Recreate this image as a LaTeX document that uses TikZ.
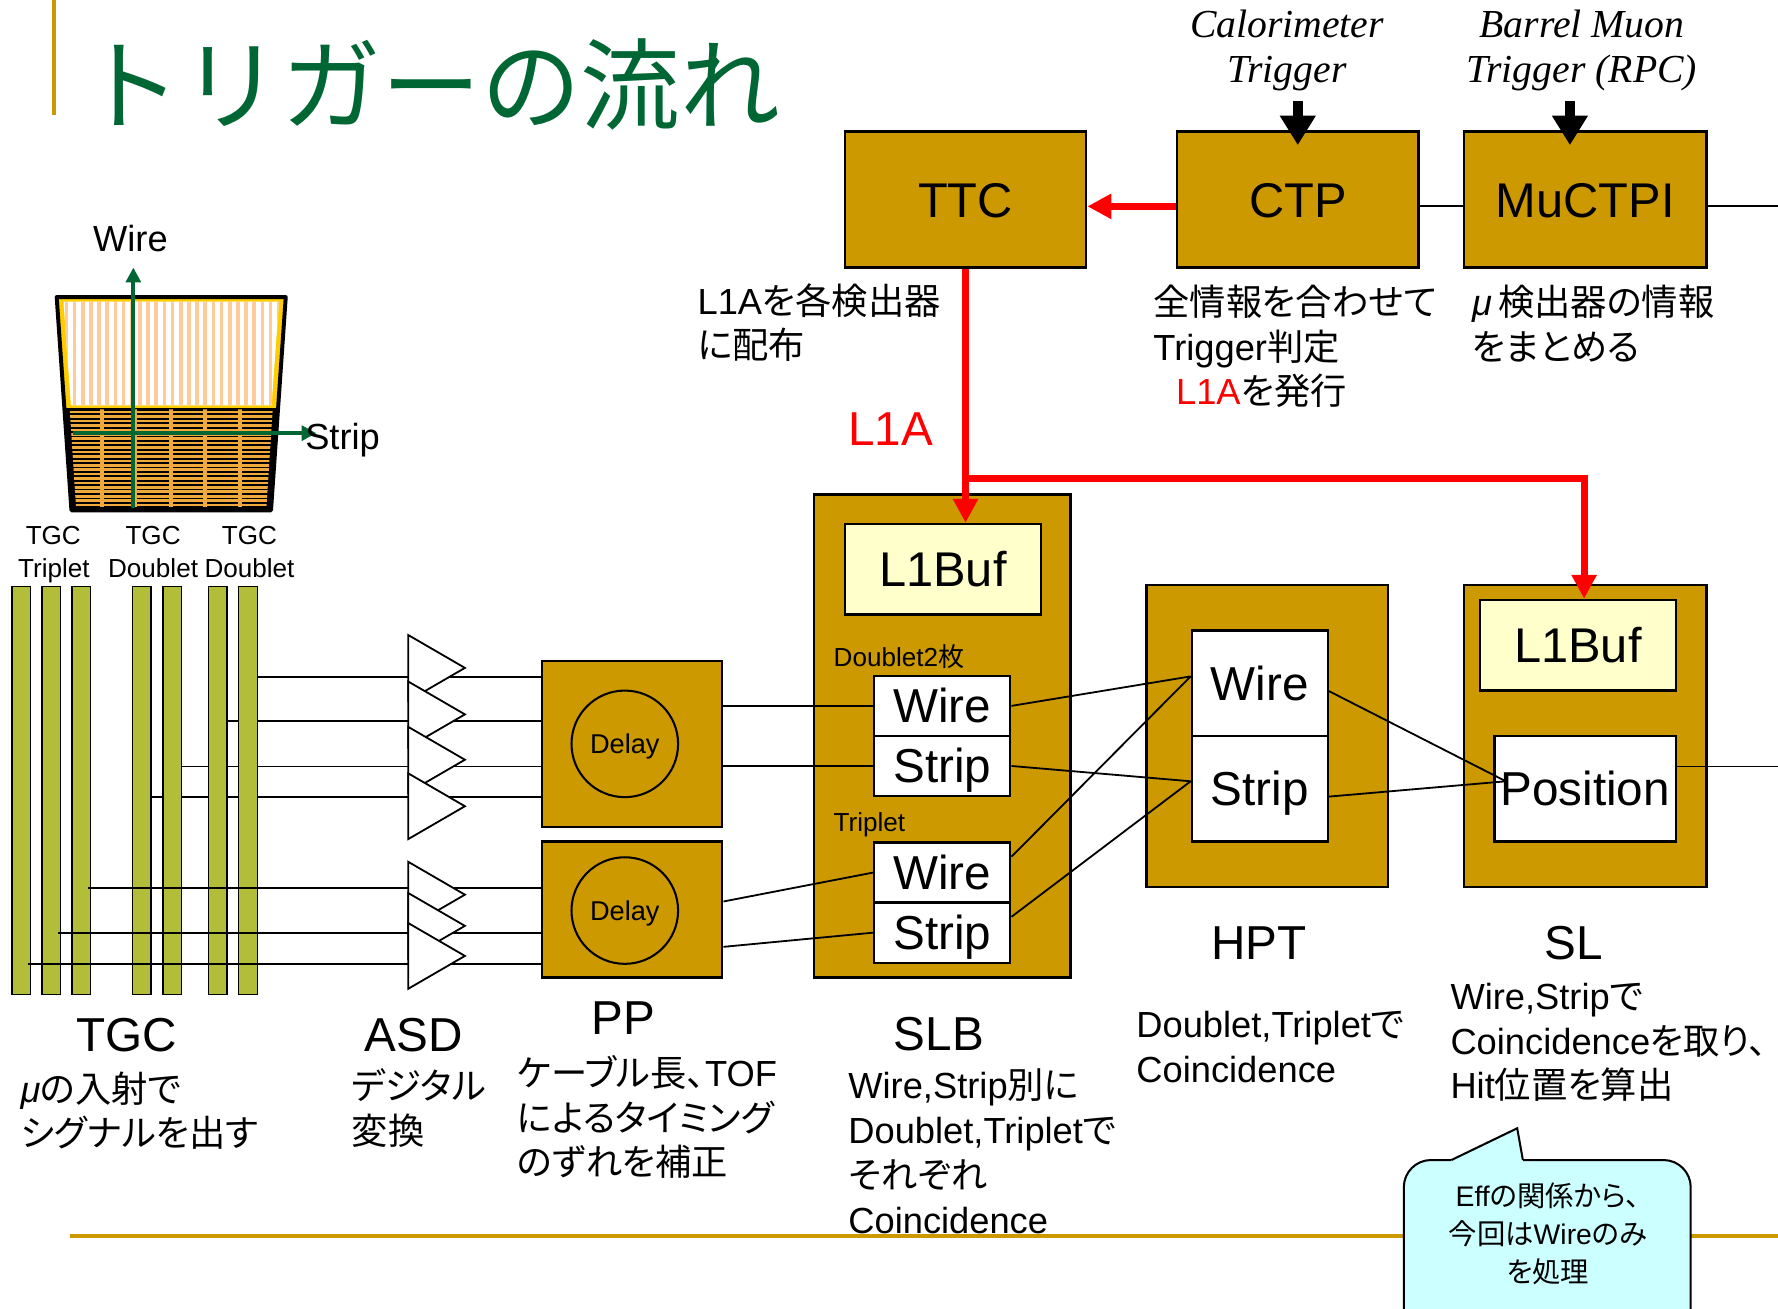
\documentclass[tikz,border=0pt]{standalone}
\usepackage{fontspec}
\setmainfont{Liberation Sans}
\newfontfamily\latfont{Liberation Sans}
\newfontfamily\jpfont{Noto Sans CJK JP}[RawFeature=+palt]
\newfontfamily\jptitle{Noto Sans CJK JP}
\newfontfamily\serifit{Liberation Serif}
\usetikzlibrary{arrows.meta,calc}

% automatic switch to the Japanese font for CJK characters
\XeTeXinterchartokenstate=1
\newXeTeXintercharclass\jclass
\makeatletter
\def\jrange#1#2{\count@=#1\relax
  \loop\XeTeXcharclass\count@=\jclass\relax
  \ifnum\count@<#2\relax\advance\count@\@ne\repeat}
\makeatother
\jrange{"3000}{"30FF}
\jrange{"4E00}{"9FFF}
\jrange{"FF00}{"FFEF}
\XeTeXinterchartoks 0 \jclass = {\jpfont}
\XeTeXinterchartoks 4095 \jclass = {\jpfont}
\XeTeXinterchartoks \jclass 0 = {\latfont}

% title font: full-width glyphs, no automatic switching
\newcommand\titlefont{\XeTeXinterchartokenstate 0\relax\jptitle\fontsize{88}{88}\selectfont}

% multi-line text blocks whose baseline is the first line
\newcommand\blk[1]{\vtop{\halign{##\hfil\cr#1\crcr}}}
\newcommand\cblk[1]{\vtop{\halign{\hfil##\hfil\cr#1\crcr}}}

\definecolor{gold}{RGB}{204,153,0}
\definecolor{lightyel}{RGB}{255,255,204}
\definecolor{titlegreen}{RGB}{0,102,51}
\definecolor{olive}{RGB}{178,190,58}
\definecolor{calloutcyan}{RGB}{204,255,255}
\definecolor{stripe}{RGB}{255,204,153}
\definecolor{frameyel}{RGB}{255,204,0}
\definecolor{stripline}{RGB}{240,170,60}

\pgfdeclarelayer{back}
\pgfsetlayers{back,main}

\begin{document}
\begin{tikzpicture}[x=1pt,y=-1pt,
  sig/.style={line width=1.6pt},
  goldbox/.style={draw, line width=2pt, fill=gold, inner sep=0pt},
  cellbox/.style={draw, line width=2pt, fill=white, inner sep=0pt, minimum width=120pt,
    font=\fontsize{42}{42}\selectfont, text height=30pt, text depth=0pt},
  bufbox/.style={draw, line width=2pt, fill=lightyel, inner sep=0pt, minimum width=173pt,
    minimum height=80pt, font=\fontsize{43}{43}\selectfont, text height=31pt, text depth=0pt},
  boxlabel/.style={font=\fontsize{43}{43}\selectfont, text height=31pt, text depth=0pt},
  delaycirc/.style={circle, draw, line width=1.8pt, minimum size=94pt, inner sep=0pt,
    font=\fontsize{24}{24}\selectfont, text height=17pt, text depth=0pt},
  barnode/.style={draw, line width=1.2pt, fill=olive, minimum width=16.5pt,
    minimum height=360pt, inner sep=0pt},
  bodytxt/.style={inner sep=0pt, font=\fontsize{32}{39.5}\selectfont},
  notetxt/.style={inner sep=0pt, font=\fontsize{25}{33.5}\selectfont},
  bigtxt/.style={inner sep=0pt, font=\fontsize{42}{42}\selectfont},
  smalltxt/.style={inner sep=0pt, font=\fontsize{23}{23}\selectfont},
  midtxt/.style={inner sep=0pt, font=\fontsize{32}{32}\selectfont},
  seriftxt/.style={inner sep=0pt, font=\serifit\itshape\fontsize{35}{35}\selectfont},
  redline/.style={red, line width=6pt},
  redtip/.style={-{Triangle[width=21pt,length=21pt]}},
  blkarrow/.style={line width=9pt, -{Triangle[width=30pt,length=26pt]}},
  axisarrow/.style={titlegreen, line width=3.5pt, -{Triangle[width=13pt,length=13pt]}}]

\useasboundingbox (0,0) rectangle (1568,1154);

\begin{pgfonlayer}{back}
  \fill[white] (0,0) rectangle (1568,1154);
  \draw[gold, line width=4pt] (62,1090) -- (1568,1090);
  \draw[gold, line width=3.5pt] (48,0) -- (48,101);
\end{pgfonlayer}

% title
\node[inner sep=0pt, anchor=base west, text=titlegreen, font=\titlefont] (title) at (72,108) {トリガーの流れ};

% ---------- TGC chamber sketch ----------
\fill[frameyel] (50,262) -- (252,262) -- (245.2,360) -- (56.8,360) -- cycle;
\begin{scope}
  \clip (56,266) -- (246,266) -- (239.5,357.5) -- (62.5,357.5) -- cycle;
  \fill[white] (50,262) rectangle (252,360);
  \foreach \i in {0,...,26} \fill[stripe] ({57+7.2*\i},262) rectangle ++(3.2,100);
\end{scope}
\fill[black] (56.8,360) -- (245.2,360) -- (239,450) -- (63,450) -- cycle;
\begin{scope}
  \clip (61.5,361) -- (240.5,361) -- (235,447) -- (67,447) -- cycle;
  \foreach \i in {0,...,21}
    \draw[stripline, line width=2.3pt] (55,{363.5+3.9*\i}) -- (250,{363.5+3.9*\i});
  \foreach \x in {90,119,151,181,212} \fill[stripline] ({\x-1.8},360) rectangle ++(3.6,90);
\end{scope}
\draw[line width=3.5pt, line join=round] (50,262) -- (252,262) -- (239,450) -- (63,450) -- cycle;
\draw[axisarrow] (117.6,448) -- (117.6,236);
\draw[axisarrow] (64,382) -- (279,382);
\node[midtxt, anchor=base] (wirelab) at (115,222) {Wire};
\node[midtxt, anchor=base west] (striplab) at (269,396) {Strip};

\node[smalltxt, anchor=base] (tgc1) at (47,480) {TGC};
\node[smalltxt, anchor=base] (tgc2) at (135,480) {TGC};
\node[smalltxt, anchor=base] (tgc3) at (220,480) {TGC};
\node[smalltxt, anchor=base] (trip) at (47.5,509) {Triplet};
\node[smalltxt, anchor=base] (dbla) at (135,509) {Doublet};
\node[smalltxt, anchor=base] (dblb) at (220,509) {Doublet};

% ---------- TGC layers ----------
\foreach \n/\x in {1/18.75, 2/45.25, 3/71.75, 4/125, 5/152, 6/192, 7/218.75}
  \node[barnode] (b\n) at (\x,697) {};

% ---------- PP boards ----------
\node[goldbox, minimum width=159pt, minimum height=146pt] (pp1) at (557.5,656) {};
\node[goldbox, minimum width=159pt, minimum height=120pt] (pp2) at (557.5,802) {};
\node[delaycirc] (dl1) at (551,656) {Delay};
\node[delaycirc] (dl2) at (551,803) {Delay};

\coordinate (ya) at (0,597);
\coordinate (yb) at (0,636);
\coordinate (yc) at (0,676);
\coordinate (yd) at (0,703);
\coordinate (ye) at (0,783);
\coordinate (yf) at (0,823);
\coordinate (yg) at (0,850);

% doublet signals run behind the layers
\begin{pgfonlayer}{back}
  \draw[sig] (b7.east |- ya) -- (pp1.west |- ya);
  \draw[sig] (b6.east |- yb) -- (pp1.west |- yb);
  \draw[sig] (b5.east |- yc) -- (pp1.west |- yc);
  \draw[sig] (b4.east |- yd) -- (pp1.west |- yd);
\end{pgfonlayer}
% triplet signals cross over the layers
\draw[sig] ($(b3.east |- ye)+(-3,0)$) -- (pp2.west |- ye);
\draw[sig] ($(b2.east |- yf)+(-3,0)$) -- (pp2.west |- yf);
\draw[sig] ($(b1.east |- yg)+(-3,0)$) -- (pp2.west |- yg);

% ---------- ASD amplifiers ----------
\foreach \t in {560,601,641,682,760,787.5,814}
  \draw[sig, fill=white, line join=miter] (360,\t) -- (410,{\t+29}) -- (360,{\t+58}) -- cycle;

% ---------- SLB ----------
\node[goldbox, minimum width=226pt, minimum height=426pt] (slb) at (831,649) {};
\node[bufbox] (slbbuf) at (831.5,502) {L1Buf};
\node[cellbox, minimum height=53pt] (dw) at (831,622.5) {Wire};
\node[cellbox, minimum height=53pt] (ds) at (831,675.5) {Strip};
\node[cellbox, minimum height=53pt] (tw) at (831,769.5) {Wire};
\node[cellbox, minimum height=53pt] (ts) at (831,822.5) {Strip};
\node[smalltxt, anchor=base west] (dbl2lab) at (735,587.5) {Doublet2枚};
\node[smalltxt, anchor=base west] (triplab) at (735,733.5) {Triplet};

\draw[sig] (dw.west -| pp1.east) -- (dw.west);
\draw[sig] (ds.west -| pp1.east) -- (ds.west);
\draw[sig] ($(pp2.east)+(0,-7)$) -- (tw.west);
\draw[sig] ($(pp2.east)+(0,33)$) -- (ts.west);

% ---------- HPT ----------
\node[goldbox, minimum width=213pt, minimum height=266pt] (hpt) at (1117.5,649) {};
\node[cellbox, minimum height=93pt] (hw) at (1111,602.5) {Wire};
\node[cellbox, minimum height=93pt] (hs) at (1111,695.5) {Strip};
\coordinate (hin) at ($(hw.west)+(0,-6)$);
\coordinate (sin) at ($(hs.west)+(0,-6.5)$);
\draw[sig] (dw.east) -- (hin);
\draw[sig] ($(tw.east)+(0,-14)$) -- (hin);
\draw[sig] (ds.east) -- (sin);
\draw[sig] ($(ts.east)+(0,-14)$) -- (sin);

% ---------- SL ----------
\node[goldbox, minimum width=214pt, minimum height=266pt] (sl) at (1398,649) {};
\node[bufbox] (slbuf) at (1391.5,569) {L1Buf};
\node[cellbox, minimum width=160pt, minimum height=93pt] (pos) at (1398,695.5) {Position};
\coordinate (posin) at (1328,689);
\draw[sig] ($(hw.east)+(0,7)$) -- (posin);
\draw[sig] ($(hs.east)+(0,7)$) -- (posin);
\coordinate (slout) at (1568,676);
\draw[sig] (pos.east |- slout) -- (slout);

% ---------- central trigger ----------
\node[goldbox, minimum width=213pt, minimum height=120pt, boxlabel] (ttc) at (851.5,176) {TTC};
\node[goldbox, minimum width=213pt, minimum height=120pt, boxlabel] (ctp) at (1144.5,176) {CTP};
\node[goldbox, minimum width=214pt, minimum height=120pt, boxlabel] (muctpi) at (1398,176) {MuCTPI};
\draw[sig] ($(ctp.east)+(0,6)$) -- ($(muctpi.west)+(0,6)$);
\coordinate (muout) at (1568,182);
\draw[sig] ($(muctpi.east)+(0,6)$) -- (muout);

\node[seriftxt, anchor=base] (calo) at (1135,33) {Calorimeter};
\node[seriftxt, anchor=base] (calob) at (1135,73) {Trigger};
\node[seriftxt, anchor=base] (rpc) at (1395,33) {Barrel Muon};
\node[seriftxt, anchor=base] (rpcb) at (1395,73) {Trigger (RPC)};
\coordinate (caloin) at (1144.5,89);
\coordinate (rpcin) at (1384.5,89);
\draw[blkarrow] (caloin) -- (caloin |- 0,128);
\draw[blkarrow] (rpcin) -- (rpcin |- 0,128);

% L1A distribution
\draw[redline, redtip] ($(ctp.west)+(0,6)$) -- ($(ttc.east)+(0,6)$);
\draw[redline, redtip] (ttc.south) -- (slbbuf.north -| ttc.south);
\coordinate (redturn) at (1397,422);
\draw[redline, redtip] (ttc.south |- redturn) -- (redturn) -- (redturn |- slbuf.north);
\node[bigtxt, anchor=base west, text=red] (l1a) at (748,393) {L1A};

% ---------- descriptions ----------
\node[bodytxt, anchor=base west] (ttcnote) at (615,277) {\blk{L1Aを各検出器\cr に配布}};
\node[bodytxt, anchor=base west] (ctpnote) at (1017,278)
  {\blk{全情報を合わせて\cr Trigger判定\cr \hspace*{20pt}{\color{red}L1A}を発行}};
\node[bodytxt, anchor=base west] (munote) at (1298,278) {\blk{{\itshape μ}\,検出器の情報\cr をまとめる}};

\node[bigtxt, anchor=base] (tgclab) at (112,927) {TGC};
\node[bigtxt, anchor=base] (asdlab) at (365,927) {ASD};
\node[bigtxt, anchor=base] (pplab) at (550,912) {PP};
\node[bigtxt, anchor=base] (slblab) at (828,926) {SLB};
\node[bigtxt, anchor=base] (hptlab) at (1110,846) {HPT};
\node[bigtxt, anchor=base] (sllab) at (1388,846) {SL};

\node[bodytxt, anchor=base west] (tgcnote) at (18,972) {\blk{{\itshape μ}の入射で\cr シグナルを出す}};
\node[bodytxt, anchor=base west] (asdnote) at (310,970) {\blk{デジタル\cr 変換}};
\node[bodytxt, anchor=base west] (ppnote) at (456,958) {\blk{ケーブル長、TOF\cr によるタイミング\cr のずれを補正}};
\node[bodytxt, anchor=base west] (slbnote) at (748,969)
  {\blk{Wire,Strip別に\cr Doublet,Tripletで\cr それぞれ\cr Coincidence}};
\node[bodytxt, anchor=base west] (hptnote) at (1002,915) {\blk{Doublet,Tripletで\cr Coincidence}};
\node[bodytxt, anchor=base west] (slnote) at (1279,890)
  {\blk{Wire,Stripで\cr Coincidenceを取り、\kern-8pt\cr Hit位置を算出}};

% ---------- callout ----------
\draw[line width=1.8pt, fill=calloutcyan, rounded corners=24pt] (1238,1023) rectangle (1491,1180);
\fill[calloutcyan] (1280,1023) -- (1338,995) -- (1343,1023) -- (1343,1026) -- (1280,1026) -- cycle;
\draw[line width=1.8pt, line join=miter] (1280,1023) -- (1338,995) -- (1343,1023);
\node[notetxt, anchor=base] (eff) at (1365,1064) {\cblk{Effの関係から、\cr 今回はWireのみ\cr を処理}};

\end{tikzpicture}
\end{document}
